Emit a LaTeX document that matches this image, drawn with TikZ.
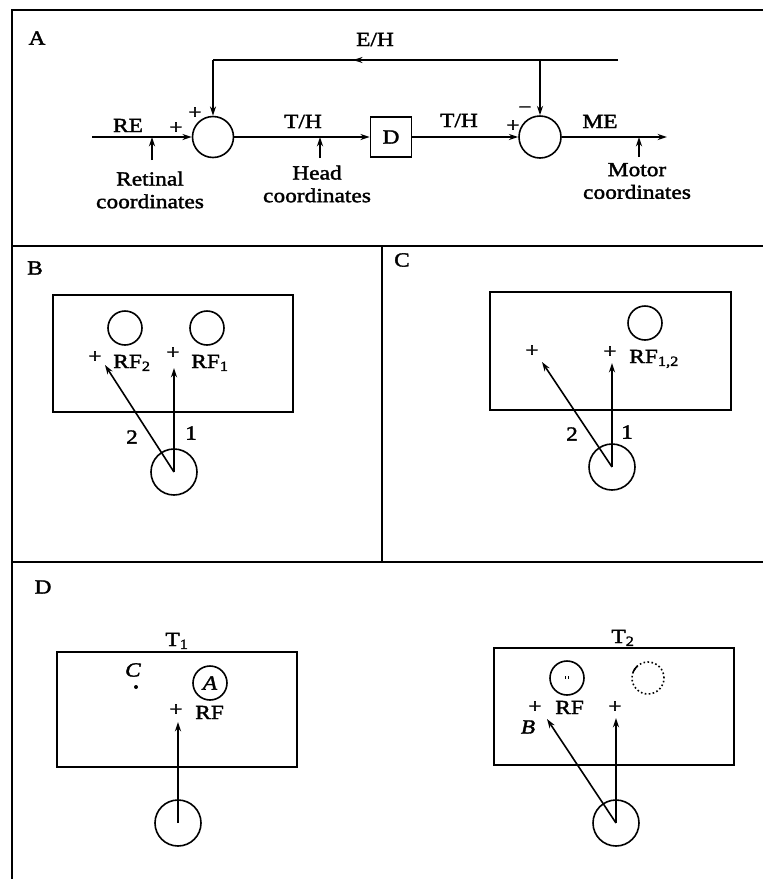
\documentclass[tikz,border=0pt]{standalone}
\usepackage{fontspec}
\setmainfont{Liberation Serif}[FakeStretch=1.17,FakeBold=1.8]
\usetikzlibrary{arrows.meta,decorations.markings}
\begin{document}
\begin{tikzpicture}[x=0.75pt,y=-0.75pt,
  frame/.style={line width=1.7pt},
  ln/.style={line width=1.2pt},
  arr/.style={ln,-{Stealth[length=7pt,width=4.5pt]}},
  sumc/.style={circle,draw,line width=1.2pt,minimum size=30.75pt,inner sep=0pt},
  eyec/.style={circle,draw,line width=1.2pt,minimum size=34.5pt,inner sep=0pt},
  rfc/.style={circle,draw,line width=1.2pt,minimum size=25.5pt,inner sep=0pt,font=\fontsize{15}{17}\selectfont},
  field/.style={draw,line width=1.2pt},
  lab/.style={font=\fontsize{15}{17}\selectfont,inner sep=0pt},
  two/.style={lab,align=center,font=\fontsize{15}{17}\selectfont},
  midarr/.style={postaction={decorate},decoration={markings,mark=at position 0.654 with {\arrow{Stealth[length=7pt,width=4.5pt]}}}}
  ]
\useasboundingbox (0,0) rectangle (763,879);
% frame
\draw[frame] (763,10) -- (12,10) -- (12,879);
\draw[frame] (12,246) -- (763,246);
\draw[frame] (12,562) -- (763,562);
\draw[frame] (382,246) -- (382,562);

% ---------- Panel A ----------
\node[lab] (lA) at (37,38) {A};
\node[sumc] (s1) at (213,137) {};
\node[sumc,minimum size=31.5pt] (s2) at (540,137) {};
\node[draw,line width=1.2pt,minimum width=30.75pt,minimum height=30pt,inner sep=0pt,font=\fontsize{15}{17}\selectfont] (Dbox) at (391,137) {D};
\coordinate (re0) at (92,137);
\coordinate (me1) at (667,137);
\draw[arr] (re0) -- (s1.west);
\draw[arr] (s1.east) -- (Dbox.west);
\draw[arr] (Dbox.east) -- (s2.west);
\draw[arr] (s2.east) -- (me1);
\coordinate (fbR) at (618,60);
\coordinate (fbL) at (213,60);
\coordinate (fbB) at (540,60);
\draw[ln,midarr] (fbR) -- (fbL);
\draw[arr] (fbL) -- (s1.north);
\draw[arr] (fbB) -- (s2.north);

\node[lab,anchor=base] (lEH) at (375,46) {E/H};
\node[lab,anchor=base] (lRE) at (128,132) {RE};
\node[lab] (p1) at (176,128) {+};
\node[lab] (p2) at (195,113) {+};
\node[lab,anchor=base] (lTH1) at (303,128) {T/H};
\node[lab,anchor=base] (lTH2) at (459,127) {T/H};
\node[lab] (p3) at (513,126) {+};
\node[lab] (m1) at (525,110) {−};
\node[lab,anchor=base] (lME) at (600,128) {ME};

\coordinate (ra) at (152,160);
\coordinate (ha) at (320,158);
\coordinate (ma) at (639,157);
\draw[arr] (ra) -- (ra |- re0);
\draw[arr] (ha) -- (ha |- re0);
\draw[arr] (ma) -- (ma |- re0);
\node[two] (tRet) at (150,190) {Retinal\\coordinates};
\node[two] (tHead) at (317,184) {Head\\coordinates};
\node[two] (tMot) at (637,181) {Motor\\coordinates};

% ---------- Panel B ----------
\node[lab] (lB) at (35,268) {B};
\draw[field] (53,295) rectangle (293,412);
\node[rfc] (cB2) at (125,328) {};
\node[rfc] (cB1) at (207,328) {};
\node[lab] (pB2) at (95,357) {+};
\node[lab,anchor=base west] (rfB2) at (113,368) {RF\textsubscript{2}};
\node[lab] (pB1) at (173,353) {+};
\node[lab,anchor=base west] (rfB1) at (191,368) {RF\textsubscript{1}};
\node[eyec] (eB) at (174,472) {};
\coordinate (tB1) at (174,368);
\coordinate (tB2) at (105,365);
\draw[arr] (eB.center) -- (tB1);
\draw[arr] (eB.center) -- (tB2);
\node[lab] (nB2) at (132,437) {2};
\node[lab] (nB1) at (191,433) {1};

% ---------- Panel C ----------
\node[lab] (lC) at (402,260) {C};
\draw[field] (490,292) rectangle (731,410);
\node[rfc] (cC) at (645,323) {};
\node[lab] (pC2) at (532,351) {+};
\node[lab] (pC1) at (610,352) {+};
\node[lab,anchor=base west] (rfC) at (629,363) {RF\textsubscript{1,2}};
\node[eyec] (eC) at (612,467) {};
\coordinate (tC1) at (612,363);
\coordinate (tC2) at (542,362);
\draw[arr] (eC.center) -- (tC1);
\draw[arr] (eC.center) -- (tC2);
\node[lab] (nC2) at (572,434) {2};
\node[lab] (nC1) at (627,432) {1};

% ---------- Panel D ----------
\node[lab] (lD) at (43,587) {D};
% T1
\node[lab,anchor=base] (lT1) at (177,646) {T\textsubscript{1}};
\draw[field] (57,652) rectangle (297,767);
\node[lab] (lCit) at (133,670) {\textit{C}};
\fill (136,687) circle[radius=1.5pt];
\node[rfc] (cA) at (210,683) {\textit{A}};
\node[lab] (pD1) at (176,710) {+};
\node[lab,anchor=base west] (rfD1) at (195,719) {RF};
\node[eyec] (eD1) at (178,823) {};
\coordinate (tD1) at (178,722);
\draw[arr] (eD1.center) -- (tD1);
% T2
\node[lab,anchor=base] (lT2) at (623,643) {T\textsubscript{2}};
\draw[field] (494,648) rectangle (734,765);
\node[rfc] (cD2) at (567,678) {};
\draw[line width=0.8pt] (565.5,676) -- (565.5,679);
\draw[line width=0.8pt] (568.5,676) -- (568.5,679);
\draw[ln,dash pattern=on 1.2pt off 1.8pt] (648,678) circle[radius=12pt];
\draw[ln] ([shift={(132:12pt)}]648,678) arc[start angle=132,end angle=158,radius=12pt];
\node[lab] (pD2a) at (535,707) {+};
\node[lab,anchor=base west] (rfD2) at (555,714) {RF};
\node[lab] (pD2b) at (615,707) {+};
\node[lab] (lBit) at (528,727) {\textit{B}};
\node[eyec] (eD2) at (616,823) {};
\coordinate (tD2a) at (616,718);
\coordinate (tD2b) at (547,719);
\draw[arr] (eD2.center) -- (tD2a);
\draw[arr] (eD2.center) -- (tD2b);
\end{tikzpicture}
\end{document}
